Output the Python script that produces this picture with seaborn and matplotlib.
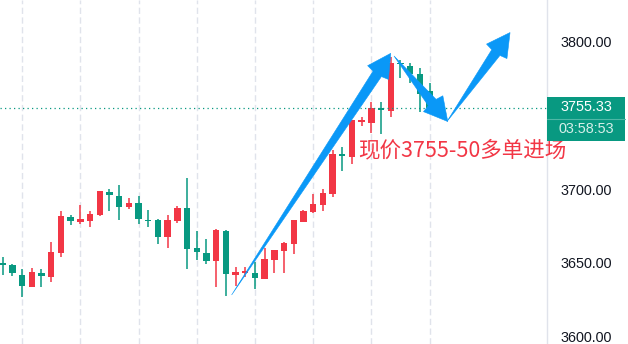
import numpy as np
import pandas as pd
import seaborn as sns
import matplotlib
matplotlib.use("Agg")
import matplotlib.pyplot as plt
from matplotlib.patches import Polygon, Rectangle
from matplotlib.transforms import IdentityTransform
from matplotlib.lines import Line2D

# ---------------- data ----------------
opens = [3650.0, 3648.4, 3641.8, 3633.9, 3643.2, 3640.7, 3657.0, 3681.4, 3678.0, 3678.6,
         3682.5, 3698.3, 3695.6, 3687.7, 3690.6, 3679.3, 3679.1, 3667.8, 3678.4, 3687.2,
         3659.9, 3656.9, 3651.3, 3671.7, 3641.8, 3643.0, 3643.0, 3639.1, 3652.0, 3658.1,
         3662.8, 3678.0, 3684.5, 3689.3, 3696.7, 3723.7, 3722.0, 3745.4, 3745.1, 3754.8,
         3753.2, 3785.4, 3783.5, 3777.9, 3766.8]
highs = [3654.2, 3649.1, 3646.1, 3646.4, 3645.7, 3664.2, 3685.4, 3682.7, 3689.5, 3685.0,
         3699.0, 3699.9, 3703.1, 3693.8, 3695.4, 3685.9, 3680.0, 3682.5, 3688.6, 3707.6,
         3671.7, 3666.0, 3672.8, 3672.3, 3647.0, 3647.0, 3650.8, 3660.3, 3659.0, 3664.4,
         3679.3, 3685.9, 3696.7, 3699.9, 3726.6, 3728.4, 3747.2, 3749.2, 3759.3, 3759.3,
         3789.8, 3787.6, 3785.4, 3782.0, 3771.8]
lows = [3641.8, 3641.1, 3626.7, 3633.5, 3633.9, 3636.9, 3653.8, 3675.7, 3676.4, 3674.6,
        3681.8, 3685.2, 3679.1, 3686.6, 3676.4, 3674.6, 3662.8, 3660.3, 3677.3, 3646.1,
        3652.0, 3649.3, 3633.9, 3627.8, 3634.4, 3640.3, 3632.3, 3638.9, 3643.0, 3643.4,
        3656.1, 3677.5, 3683.7, 3685.4, 3694.9, 3712.5, 3717.1, 3742.8, 3738.3, 3737.2,
        3749.2, 3775.6, 3771.8, 3752.5, 3753.0]
closes = [3648.6, 3643.4, 3634.4, 3643.7, 3641.2, 3657.4, 3682.0, 3678.6, 3679.6, 3683.2,
          3698.6, 3696.1, 3687.7, 3690.4, 3679.6, 3678.4, 3667.8, 3679.1, 3687.2, 3659.5,
          3657.2, 3651.5, 3672.3, 3642.3, 3643.7, 3644.5, 3639.6, 3652.7, 3658.8, 3663.3,
          3679.1, 3685.4, 3690.0, 3697.6, 3723.7, 3722.7, 3746.9, 3746.9, 3754.8, 3753.7,
          3785.4, 3784.7, 3777.9, 3764.5, 3755.33]

last_price = 3755.33
countdown = "03:58:53"
ytick_values = [3600, 3650, 3700, 3800]
grid_candles = [2, 8, 14, 20, 26, 32, 38, 44]
note_text = "现价3755-50多单进场"
# arrows: (tail_x, tail_price, tip_x, tip_price)
arrow_tails_x = [23.6, 40.34, 45.8]
arrow_tails_p = [3628.3, 3790.3, 3745.9]
arrow_tips_x = [40.0, 45.88, 52.3]
arrow_tips_p = [3792.1, 3745.9, 3806.2]

# ---------------- style ----------------
sns.set_theme(style="white")
plt.rcParams['font.family'] = ['Liberation Sans', 'DejaVu Sans']

UP = '#F23645'
DOWN = '#089981'
BLUE = '#0A98F7'
GRID = '#E0E3EB'

df = pd.DataFrame({'open': opens, 'high': highs, 'low': lows, 'close': closes})
df['x'] = np.arange(len(df))
df['color'] = np.where(df['close'] >= df['open'], UP, DOWN)

W, H = 628, 344
fig = plt.figure(figsize=(W / 100, H / 100), dpi=100)
fig.patch.set_facecolor('white')
ax = fig.add_axes([0, 0, 547 / W, 1])
ax.set_facecolor('white')

ax.set_xlim(-0.278, 56.11)
ax.set_ylim(3595.05, 3828.27)

# grid
for g in grid_candles:
    ax.axvline(g, color=GRID, lw=1.0, dashes=(4.5, 2.5), zorder=0)

# wicks
ax.vlines(df['x'], df['low'], df['high'], colors=df['color'], lw=1.1, zorder=2)
# bodies
body_bottom = np.minimum(df['open'], df['close'])
body_h = np.maximum(np.abs(df['close'] - df['open']), 1.0)
ax.bar(df['x'], body_h, bottom=body_bottom, width=0.66, color=df['color'],
       edgecolor='none', zorder=3)

# price line
ax.axhline(last_price, color=DOWN, lw=0.9, dashes=(1, 2.6), zorder=4)

# axes cosmetics
for s in ['top', 'left', 'bottom']:
    ax.spines[s].set_visible(False)
ax.spines['right'].set_color(GRID)
ax.spines['right'].set_linewidth(1.0)
ax.set_xticks([])
ax.yaxis.tick_right()
ax.set_yticks(ytick_values)
ax.set_yticklabels([f"{v:.2f}" for v in ytick_values])
ax.tick_params(axis='y', length=0, pad=9.4, labelsize=10.4, labelcolor='#131722')

# annotation text
ax.text(36.6, 3726.6, note_text, color=UP, fontsize=15.5, ha='left', va='center',
        family=['Noto Sans CJK SC', 'DejaVu Sans'], clip_on=False, zorder=10)

fig.canvas.draw()

# arrows (tapered) built in display space
def tapered_arrow(tx, tp, hx, hp, body_w=10, head_w=25, head_len=23):
    t = ax.transData.transform((tx, tp))
    h = ax.transData.transform((hx, hp))
    d = h - t
    L = np.hypot(*d)
    u = d / L
    n = np.array([-u[1], u[0]])
    base = h - u * head_len
    inner = h - u * (head_len + 1.5)
    pts = [t,
           inner + n * body_w / 2,
           base + n * head_w / 2,
           h,
           base - n * head_w / 2,
           inner - n * body_w / 2]
    poly = Polygon(pts, closed=True, facecolor=BLUE, edgecolor=BLUE, lw=0.4,
                   transform=IdentityTransform(), zorder=8)
    fig.patches.append(poly)

for a, b, c, d in zip(arrow_tails_x, arrow_tails_p, arrow_tips_x, arrow_tips_p):
    tapered_arrow(a, b, c, d)

# current price label box
py = ax.transData.transform((0, last_price))[1]
box = Rectangle((547, py - 33.7), 78, 44.7, facecolor=DOWN, edgecolor='none',
                transform=IdentityTransform(), zorder=9)
fig.patches.append(box)
sep = Line2D([547, 625], [py - 11, py - 11], color='#4fb8a6', lw=0.8,
             transform=IdentityTransform(), zorder=10)
fig.lines.append(sep)
fig.text(586 / W, (py + 0.3) / H, f"{last_price:.2f}", color='white', fontsize=10.4,
         ha='center', va='center', zorder=11)
fig.text(586 / W, (py - 21) / H, countdown, color='#d6efe9', fontsize=10.4,
         ha='center', va='center', zorder=11)

fig.savefig('out.png', dpi=100)
